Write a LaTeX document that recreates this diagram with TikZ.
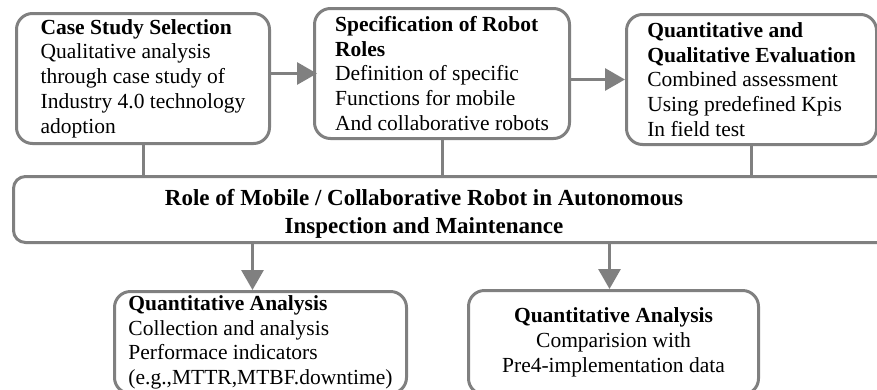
\documentclass[tikz,border=0pt]{standalone}
\usepackage{fontspec}
\setmainfont{Liberation Serif}
\usetikzlibrary{arrows.meta,positioning}
\definecolor{boxgray}{RGB}{128,128,128}

\begin{document}
\begin{tikzpicture}[x=1pt,y=-1pt,>={Triangle[length=20pt,width=22pt]},
  box/.style={draw=boxgray,line width=3pt,rounded corners=16pt,inner sep=0pt,
    align=left,font=\fontsize{21.5}{24.7}\selectfont},
  link/.style={draw=boxgray,line width=3pt}]
\useasboundingbox (0,0) rectangle (877,389);
% top row
\node[box,anchor=north west,minimum width=253pt,minimum height=130pt] (sel) at (15,12)
  {\textbf{Case Study Selection}\\Qualitative analysis\\through case study of\\Industry 4.0 technology\\adoption};
\node[box,anchor=north west,minimum width=255pt,minimum height=130pt] (spec) at (313,7)
  {\textbf{Specification of Robot}\\\textbf{Roles}\\Definition of specific\\Functions for mobile\\And collaborative robots};
\node[box,anchor=north west,minimum width=250pt,minimum height=130pt] (eval) at (625,13)
  {\textbf{Quantitative and}\\\textbf{Qualitative Evaluation}\\Combined assessment\\Using predefined Kpis\\In field test};
% middle
\node[box,anchor=north west,rounded corners=12pt,minimum width=890pt,minimum height=66pt] (role) at (12,175) {};
\node[align=center,inner sep=0pt,font=\fontsize{23}{28}\selectfont\bfseries] (roletxt) at (424,214)
  {Role of Mobile / Collaborative Robot in Autonomous\\Inspection and Maintenance};
% bottom row
\node[box,anchor=north west,minimum width=292pt,minimum height=102pt] (perf) at (113,290)
  {\textbf{Quantitative Analysis}\\Collection and analysis\\Performace indicators\\(e.g.,MTTR,MTBF.downtime)};
\node[box,anchor=north west,align=center,minimum width=290pt,minimum height=104pt] (comp) at (467,289)
  {\textbf{Quantitative Analysis}\\Comparision with\\Pre4-implementation data};

\draw[link] (sel.south) -- (sel.south |- role.north);
\draw[link] (spec.south) -- (spec.south |- role.north);
\draw[link] (eval.south) -- (eval.south |- role.north);
\draw[link,->,shorten >=-4pt] (sel.east |- spec.west) -- (spec.west);
\draw[link,->] (spec.east |- eval.west) -- (eval.west);
\coordinate (pin1) at ([xshift=-8pt]perf.north);
\coordinate (pin2) at ([xshift=-4pt]comp.north);
\draw[link,->] (pin1 |- role.south) -- (pin1);
\draw[link,->] (pin2 |- role.south) -- (pin2);
\end{tikzpicture}
\end{document}
